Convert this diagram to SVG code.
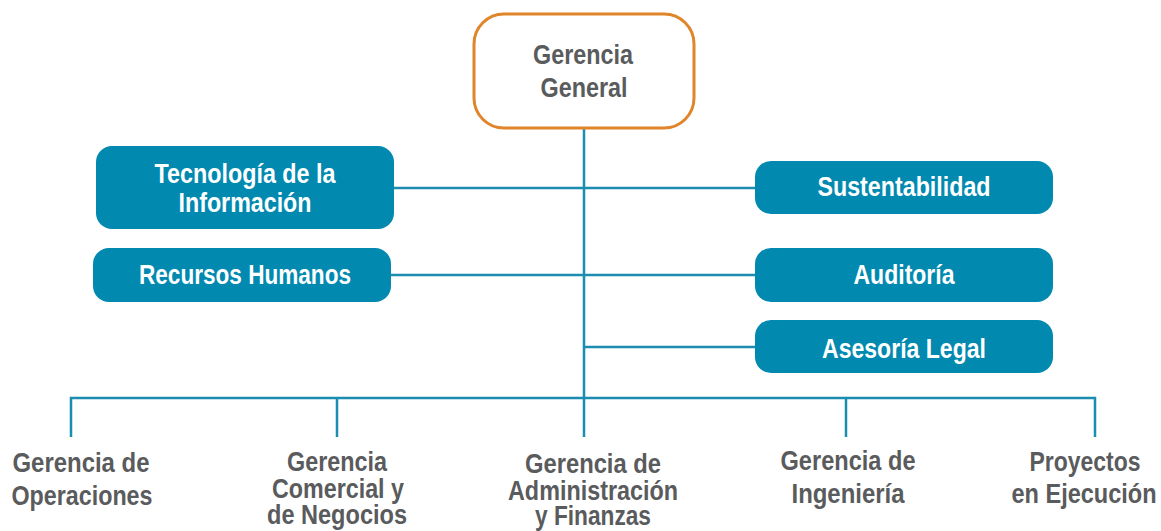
<svg xmlns="http://www.w3.org/2000/svg" width="1161" height="531" viewBox="0 0 1161 531">
<style>
.box{fill:#0189B0;}
.t{font-family:"Liberation Sans",Arial,sans-serif;font-weight:bold;font-size:28px;text-anchor:middle;}
.w{fill:#FFFFFF;}
.g{fill:#5A5B5D;}
.ln{stroke:#1A8DB1;stroke-width:2.5;fill:none;}
</style>
<rect width="1161" height="531" fill="#FFFFFF"/>
<g id="connectors">
<line class="ln" x1="584" y1="129" x2="584" y2="398"/>
<line class="ln" x1="394" y1="188" x2="755" y2="188"/>
<line class="ln" x1="391" y1="275" x2="755" y2="275"/>
<line class="ln" x1="584" y1="347" x2="755" y2="347"/>
<polyline class="ln" points="71,437 71,398 1095,398 1095,437"/>
<line class="ln" x1="337" y1="398" x2="337" y2="437"/>
<line class="ln" x1="584" y1="398" x2="584" y2="437"/>
<line class="ln" x1="846" y1="398" x2="846" y2="437"/>
</g>
<g id="gerencia-general">
<rect x="474" y="14" width="220" height="114" rx="30" fill="#FFFFFF" stroke="#E0852A" stroke-width="3"/>
<text class="t g" x="583" y="64" textLength="100" lengthAdjust="spacingAndGlyphs">Gerencia</text>
<text class="t g" x="584" y="97" textLength="87" lengthAdjust="spacingAndGlyphs">General</text>
</g>
<g id="tecnologia">
<rect class="box" x="96" y="146" width="298" height="83" rx="16"/>
<text class="t w" x="245" y="183" textLength="181" lengthAdjust="spacingAndGlyphs">Tecnología de la</text>
<text class="t w" x="245" y="212" textLength="133" lengthAdjust="spacingAndGlyphs">Información</text>
</g>
<g id="recursos-humanos">
<rect class="box" x="93" y="248" width="298" height="54" rx="16"/>
<text class="t w" x="245" y="284" textLength="212" lengthAdjust="spacingAndGlyphs">Recursos Humanos</text>
</g>
<g id="sustentabilidad">
<rect class="box" x="755" y="161" width="298" height="53" rx="16"/>
<text class="t w" x="904" y="196" textLength="173" lengthAdjust="spacingAndGlyphs">Sustentabilidad</text>
</g>
<g id="auditoria">
<rect class="box" x="755" y="248" width="298" height="54" rx="16"/>
<text class="t w" x="904" y="284" textLength="101" lengthAdjust="spacingAndGlyphs">Auditoría</text>
</g>
<g id="asesoria-legal">
<rect class="box" x="755" y="320" width="298" height="53" rx="16"/>
<text class="t w" x="904" y="358" textLength="164" lengthAdjust="spacingAndGlyphs">Asesoría Legal</text>
</g>
<g id="operaciones">
<text class="t g" x="81" y="472" textLength="137" lengthAdjust="spacingAndGlyphs">Gerencia de</text>
<text class="t g" x="82" y="505" textLength="141" lengthAdjust="spacingAndGlyphs">Operaciones</text>
</g>
<g id="comercial">
<text class="t g" x="337" y="471" textLength="100" lengthAdjust="spacingAndGlyphs">Gerencia</text>
<text class="t g" x="338" y="498" textLength="132" lengthAdjust="spacingAndGlyphs">Comercial y</text>
<text class="t g" x="337" y="524" textLength="140" lengthAdjust="spacingAndGlyphs">de Negocios</text>
</g>
<g id="administracion">
<text class="t g" x="593" y="473" textLength="136" lengthAdjust="spacingAndGlyphs">Gerencia de</text>
<text class="t g" x="593" y="500" textLength="170" lengthAdjust="spacingAndGlyphs">Administración</text>
<text class="t g" x="593" y="525" textLength="116" lengthAdjust="spacingAndGlyphs">y Finanzas</text>
</g>
<g id="ingenieria">
<text class="t g" x="848" y="470" textLength="135" lengthAdjust="spacingAndGlyphs">Gerencia de</text>
<text class="t g" x="848" y="503" textLength="113" lengthAdjust="spacingAndGlyphs">Ingeniería</text>
</g>
<g id="proyectos">
<text class="t g" x="1085" y="471" textLength="111" lengthAdjust="spacingAndGlyphs">Proyectos</text>
<text class="t g" x="1084" y="503" textLength="145" lengthAdjust="spacingAndGlyphs">en Ejecución</text>
</g>
</svg>
